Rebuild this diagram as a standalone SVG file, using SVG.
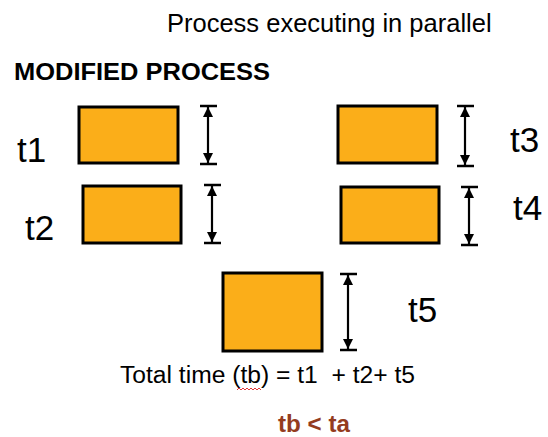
<svg xmlns="http://www.w3.org/2000/svg" width="548" height="437" viewBox="0 0 548 437">
<style>
.box{fill:#FBAE19;stroke:#000;stroke-width:3}
.dim{stroke:#000;stroke-width:2.2;fill:none}
.cap{stroke:#000;stroke-width:2.5}
.lbl{font-family:"Liberation Sans",Arial,sans-serif;font-size:35px;fill:#000}
.txt{font-family:"Liberation Sans",Arial,sans-serif;fill:#000}
</style>
<defs>
<marker id="ah" viewBox="0 0 10 10" refX="10" refY="5" markerWidth="10" markerHeight="12" markerUnits="userSpaceOnUse" orient="auto-start-reverse">
<path d="M0,0 L10,5 L0,10 z" fill="#000"/>
</marker>
</defs>
<rect width="548" height="437" fill="#fff"/>
<text class="txt" x="167" y="32" font-size="25.5">Process executing in parallel</text>
<text class="txt" x="14" y="80" font-size="24" font-weight="bold" textLength="256" lengthAdjust="spacingAndGlyphs">MODIFIED PROCESS</text>

<g id="p1">
<rect class="box" x="79" y="107" width="99" height="56"/>
<text class="lbl" x="17" y="162">t1</text>
</g>
<g id="p2">
<rect class="box" x="83" y="186" width="98" height="57"/>
<text class="lbl" x="25" y="240">t2</text>
</g>
<g id="p3">
<rect class="box" x="338" y="106" width="99" height="57"/>
<text class="lbl" x="510" y="152">t3</text>
</g>
<g id="p4">
<rect class="box" x="341" y="187" width="98" height="56"/>
<text class="lbl" x="513" y="220">t4</text>
</g>
<g id="p5">
<rect class="box" x="223" y="273" width="99" height="78"/>
<text class="lbl" x="408" y="322">t5</text>
</g>

<g id="connectors">
<line class="dim" x1="208" y1="107" x2="208" y2="163" marker-start="url(#ah)" marker-end="url(#ah)"/>
<line class="cap" x1="200" y1="106" x2="217" y2="106"/>
<line class="cap" x1="200" y1="164" x2="217" y2="164"/>

<line class="dim" x1="212" y1="186" x2="212" y2="242" marker-start="url(#ah)" marker-end="url(#ah)"/>
<line class="cap" x1="204" y1="185" x2="221" y2="185"/>
<line class="cap" x1="204" y1="243" x2="221" y2="243"/>

<line class="dim" x1="465" y1="107" x2="465" y2="165" marker-start="url(#ah)" marker-end="url(#ah)"/>
<line class="cap" x1="457" y1="106" x2="474" y2="106"/>
<line class="cap" x1="457" y1="166" x2="474" y2="166"/>

<line class="dim" x1="469" y1="188" x2="469" y2="244" marker-start="url(#ah)" marker-end="url(#ah)"/>
<line class="cap" x1="461" y1="187" x2="478" y2="187"/>
<line class="cap" x1="461" y1="245" x2="478" y2="245"/>

<line class="dim" x1="348" y1="275" x2="348" y2="349" marker-start="url(#ah)" marker-end="url(#ah)"/>
<line class="cap" x1="340" y1="274" x2="357" y2="274"/>
<line class="cap" x1="340" y1="350" x2="357" y2="350"/>
</g>

<text class="txt" x="120" y="383" font-size="23.5" textLength="295" lengthAdjust="spacingAndGlyphs" xml:space="preserve">Total time (tb) = t1  + t2+ t5</text>
<path d="M237,390 l2,-2 l2,2 l2,-2 l2,2 l2,-2 l2,2 l2,-2 l2,2 l2,-2 l2,2 l2,-2 l2,2" fill="none" stroke="#E02020" stroke-width="0.9"/>
<text class="txt" x="278" y="432" font-size="23" font-weight="bold" style="fill:#943C1E" textLength="72" lengthAdjust="spacingAndGlyphs">tb &lt; ta</text>
</svg>
